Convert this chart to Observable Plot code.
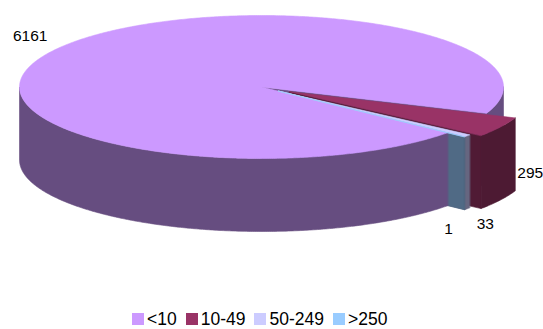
<!DOCTYPE html>
<html><head><meta charset="utf-8">
<script src="https://cdn.jsdelivr.net/npm/d3@7"></script>
<script src="https://cdn.jsdelivr.net/npm/@observablehq/plot@0.6"></script>
<style>
body{margin:0;background:#fff;font-family:"Liberation Sans",Arial,sans-serif;}
#chart svg{display:block;}
#legend .leg-swatches{font-family:"Liberation Sans",Arial,sans-serif !important;font-size:17.5px !important;margin:0 !important;}
#legend .leg-swatches-wrap{min-height:0 !important;height:20px;line-height:20px;margin-left:132px !important;flex-wrap:nowrap !important;}
#legend .leg-swatch{margin-right:9px !important;color:#000;}
#legend .leg-swatch > svg{margin-right:3px !important;}
</style></head>
<body><div id="chart"></div><div id="legend"></div>
<script>
// ---- data ----
const categories = ["<10", "10-49", "50-249", ">250"];
const values = [6161, 295, 33, 1];
const colors = ["#CC99FF", "#993366", "#CCCCFF", "#99CCFF"];
const labels = ["6161", "295", "33", "1"];

// ---- layout / style ----
const W = 543, H = 309;
const startDeg = 39.7;            // screen angle (clockwise from east) where the first slice starts
const explode = [0, 0.135, 0.09, 0.09];
const depth = 73 / 71.5;          // extrusion in y-units
const labelNudge = [[-23, -15], [30, 46], [18, 88], [-16, 92]];
const wallShade = 0.5, faceShade = 0.52;

const rad = Math.PI / 180;
const s0 = (startDeg + 90) * rad;
const arcs = d3.pie().sort(null).value(d => d).startAngle(s0).endAngle(s0 + 2 * Math.PI)(values);

function shade(c, k) { const q = d3.rgb(c); return d3.rgb(q.r * k, q.g * k, q.b * k).formatHex(); }
function pt(a, r, h, off) { return {x: off[0] + r * Math.cos(a), y: off[1] + r * Math.sin(a) + h * depth}; }
function arcPts(a0, a1, h, off) {
  const n = Math.max(2, Math.ceil(Math.abs(a1 - a0) / (0.5 * rad)) + 1);
  return d3.range(n).map(i => pt(a0 + (a1 - a0) * i / (n - 1), 1, h, off));
}

const slices = arcs.map((d, i) => {
  const a0 = d.startAngle - Math.PI / 2, a1 = d.endAngle - Math.PI / 2;
  const mid = (a0 + a1) / 2;
  const off = [explode[i] * Math.cos(mid), explode[i] * Math.sin(mid)];
  return {i, a0, a1, mid, off, color: colors[i]};
});

const faces = [], walls = [], tops = [];
for (const s of slices) {
  const c = s.off;
  tops.push({fill: s.color, pts: [pt(0, 0, 0, c), ...arcPts(s.a0, s.a1, 0, c)]});
  for (const k of [0, 1, 2]) {
    const lo = Math.max(s.a0, k * 2 * Math.PI), hi = Math.min(s.a1, k * 2 * Math.PI + Math.PI);
    if (hi > lo) {
      const top = arcPts(lo, hi, 0, c), bot = arcPts(hi, lo, 1, c);
      walls.push({fill: shade(s.color, wallShade), key: Math.sin((lo + hi) / 2), pts: [...top, ...bot]});
    }
  }
  const mk = a => [pt(0, 0, 0, c), pt(a, 1, 0, c), pt(a, 1, 1, c), pt(0, 0, 1, c)];
  if (Math.cos(s.a0) < 0) faces.push({fill: shade(s.color, faceShade), key: Math.sin(s.a0), pts: mk(s.a0)});
  if (Math.cos(s.a1) > 0) faces.push({fill: shade(s.color, faceShade), key: Math.sin(s.a1), pts: mk(s.a1)});
}
faces.sort((a, b) => a.key - b.key);
walls.sort((a, b) => a.key - b.key);

const polyMark = p => Plot.line(p.pts, {x: "x", y: "y", fill: p.fill, stroke: p.fill, strokeWidth: 0.6, curve: "linear-closed"});

const labelMarks = slices.map(s => {
  const p = pt(s.mid, 1, 0, s.off);
  return Plot.text([p], {x: "x", y: "y", text: () => labels[s.i], dx: labelNudge[s.i][0], dy: labelNudge[s.i][1],
    fontSize: 15.5, fill: "#000", textAnchor: "middle", lineAnchor: "middle", fontFamily: "Liberation Sans, Arial, sans-serif"});
});

const chart = Plot.plot({
  width: W, height: H,
  margin: 0,
  x: {domain: [-1, 1], range: [19, 503], axis: null},
  y: {domain: [-1, 1], range: [15, 158], axis: null},
  style: {background: "#fff", fontFamily: "Liberation Sans, Arial, sans-serif"},
  marks: [
    ...faces.map(polyMark),
    ...walls.map(polyMark),
    ...tops.map(polyMark),
    ...labelMarks
  ]
});
document.getElementById("chart").appendChild(chart);

const leg = Plot.legend({
  color: {type: "ordinal", domain: categories, range: colors},
  swatchSize: 12,
  className: "leg"
});
document.getElementById("legend").appendChild(leg);
</script>
</body></html>
